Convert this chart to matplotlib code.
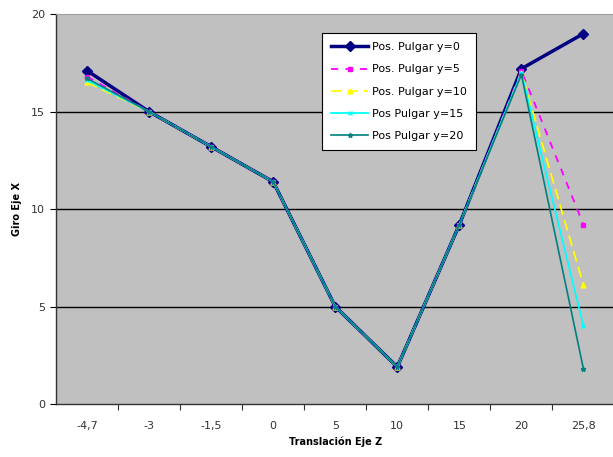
import matplotlib
matplotlib.use("Agg")
import matplotlib.pyplot as plt
import numpy as np

categories = ["-4,7", "-3", "-1,5", "0", "5", "10", "15", "20", "25,8"]
y0 = [17.1, 15.0, 13.2, 11.4, 5.0, 1.9, 9.2, 17.2, 19.0]
y5 = [16.8, 15.0, 13.2, 11.4, 5.0, 1.9, 9.2, 17.1, 9.2]
y10 = [16.5, 15.0, 13.2, 11.4, 5.0, 1.9, 9.2, 17.0, 6.1]
y15 = [16.6, 15.0, 13.2, 11.4, 5.0, 1.9, 9.2, 17.0, 4.0]
y20 = [16.7, 15.0, 13.2, 11.4, 5.0, 1.9, 9.2, 16.9, 1.8]
series_labels = ["Pos. Pulgar y=0", "Pos. Pulgar y=5", "Pos. Pulgar y=10",
                 "Pos Pulgar y=15", "Pos Pulgar y=20"]

fig = plt.figure(figsize=(6.13, 4.57), dpi=100)
ax = fig.add_axes([0.0914, 0.116, 0.911, 0.853])
ax.set_facecolor("#C0C0C0")

x = np.arange(len(categories))
ax.plot(x, y0, color="#000080", lw=2.5, marker="D", ms=5, label=series_labels[0], zorder=2)
ax.plot(x, y5, color="#FF00FF", lw=1.3, ls=(0, (4, 4)), marker="s", ms=3, label=series_labels[1], zorder=3)
ax.plot(x, y10, color="#FFFF00", lw=1.3, ls=(0, (6, 3)), marker="^", ms=3.5, label=series_labels[2], zorder=4)
ax.plot(x, y15, color="#00FFFF", lw=1.3, marker="x", ms=3.5, label=series_labels[3], zorder=5)
ax.plot(x, y20, color="#008080", lw=1.2, marker="*", ms=3.5, label=series_labels[4], zorder=6)

ax.set_xlim(-0.5, len(categories) - 0.5)
ax.set_ylim(0, 20)
ax.set_yticks([0, 5, 10, 15, 20])
ax.set_yticklabels(["0", "5", "10", "15", "20"])
for yv in [5, 10, 15]:
    ax.axhline(yv, color="black", lw=1, zorder=1)

ax.set_xticks(np.arange(0.5, len(categories) - 0.5, 1.0), minor=False)
ax.set_xticklabels([])
ax.set_xticks(x, minor=True)
ax.set_xticklabels(categories, minor=True)
ax.tick_params(axis="x", which="minor", length=0, pad=12, labelsize=8, labelcolor="#333333")
ax.tick_params(axis="x", which="major", length=4, direction="out", color="#333333")
ax.tick_params(axis="y", length=4, direction="out", labelsize=8, labelcolor="#333333", pad=4)

for s in ["left", "bottom"]:
    ax.spines[s].set_color("#333333")
    ax.spines[s].set_linewidth(1)
ax.spines["top"].set_color("#A0A0A0")
ax.spines["right"].set_visible(False)

ax.set_xlabel("Translación Eje Z", fontsize=7, fontweight="bold", labelpad=4)
ax.set_ylabel("Giro Eje X", fontsize=7, fontweight="bold", labelpad=6)

leg = ax.legend(loc="upper left", bbox_to_anchor=(0.466, 0.965), fontsize=8,
                frameon=True, fancybox=False, framealpha=1, edgecolor="black",
                borderpad=0.8, labelspacing=1.1, handlelength=3.4, handletextpad=0.3)
leg.get_frame().set_linewidth(0.8)

fig.savefig("out.png", dpi=100)
